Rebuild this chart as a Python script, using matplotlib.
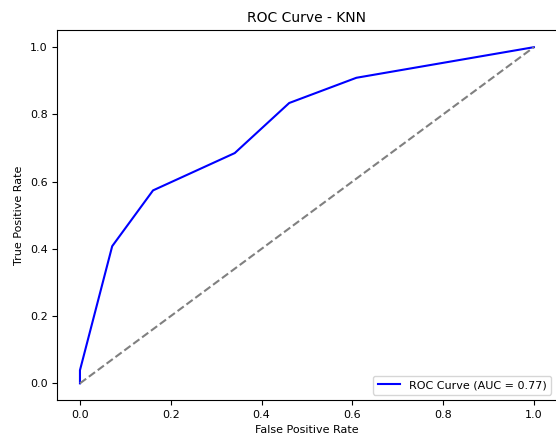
import matplotlib
matplotlib.use("Agg")
import matplotlib.pyplot as plt

fpr = [0.0, 0.0, 0.071, 0.161, 0.341, 0.461, 0.609, 1.0]
tpr = [0.0, 0.039, 0.408, 0.574, 0.685, 0.834, 0.909, 1.0]
auc_value = 0.77
title = "ROC Curve - KNN"

fig = plt.figure(figsize=(5.56, 4.34), dpi=100)
ax = fig.add_axes([0.103, 0.078, 0.898, 0.852])
ax.plot(fpr, tpr, color="blue", label=f"ROC Curve (AUC = {auc_value:.2f})")
ax.plot([0, 1], [0, 1], color="gray", linestyle="--")
ax.set_xlabel("False Positive Rate", fontsize=8)
ax.set_ylabel("True Positive Rate", fontsize=8)
ax.set_title(title, fontsize=10)
ax.tick_params(labelsize=8)
ax.legend(loc="lower right", fontsize=8)
fig.savefig("out.png", dpi=100)
